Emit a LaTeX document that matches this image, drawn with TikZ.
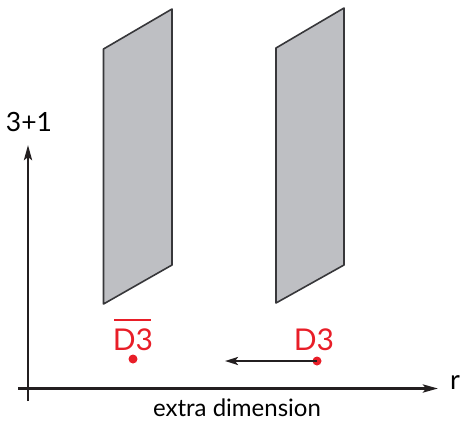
\documentclass[tikz,border=0pt]{standalone}
\usepackage{fontspec}
\setmainfont{Lato}
\usetikzlibrary{arrows.meta}
\definecolor{dred}{RGB}{232,30,40}
\definecolor{plane}{RGB}{190,191,195}
\definecolor{edge}{RGB}{55,55,58}
\definecolor{axis}{RGB}{35,31,32}
\tikzset{
  brane/.style={fill=plane,draw=edge,line width=1.6pt,line join=round},
  axisline/.style={draw=axis,line width=2.8pt,-{Stealth[length=15pt,width=8pt,inset=3pt]}},
  dot/.style={circle,fill=dred,inner sep=0pt,minimum size=9pt},
  redlab/.style={text=dred,font=\fontsize{30}{33}\selectfont,inner sep=0pt},
  movearrow/.style={draw=axis,line width=2.2pt,-{Stealth[length=13pt,width=8pt,inset=3pt]}}
}
\begin{document}
\begin{tikzpicture}[x=1pt,y=-1pt]
\useasboundingbox (0,0) rectangle (462,421);
% branes
\path[brane] (103.5,49) -- (172,9) -- (172,265) -- (103.5,304) -- cycle;
\path[brane] (276,48) -- (344,8) -- (344,265) -- (276,303) -- cycle;
% axes
\coordinate (vlow) at (28,401);
\coordinate (vtop) at (28,145);
\coordinate (hleft) at (18,388.5);
\coordinate (hright) at (438,388.5);
\draw[axisline] (vlow) -- (vtop);
\draw[axisline] (hleft) -- (hright);
\node[font=\fontsize{26.5}{30}\selectfont,inner sep=0pt] (ylab) at (29,122) {3+1};
\node[font=\fontsize{27}{30}\selectfont,inner sep=0pt] (rlab) at (455,383) {r};
\node[font=\fontsize{24}{28}\selectfont,inner sep=0pt,anchor=base] (xlab) at (237,416.5) {extra dimension};
% D3 antibrane
\node[dot] (dbar) at (133,359) {};
\node[redlab] (dbarlab) at (133,339.5) {D3};
\draw[dred,line width=2pt] (114,319.5) -- (151,319.5);
% D3 brane
\node[dot] (d) at (317,361) {};
\node[redlab] (dlab) at (314,339.5) {D3};
\coordinate (dend) at (225,361);
\draw[movearrow] (d.center) -- (dend);
\end{tikzpicture}
\end{document}
